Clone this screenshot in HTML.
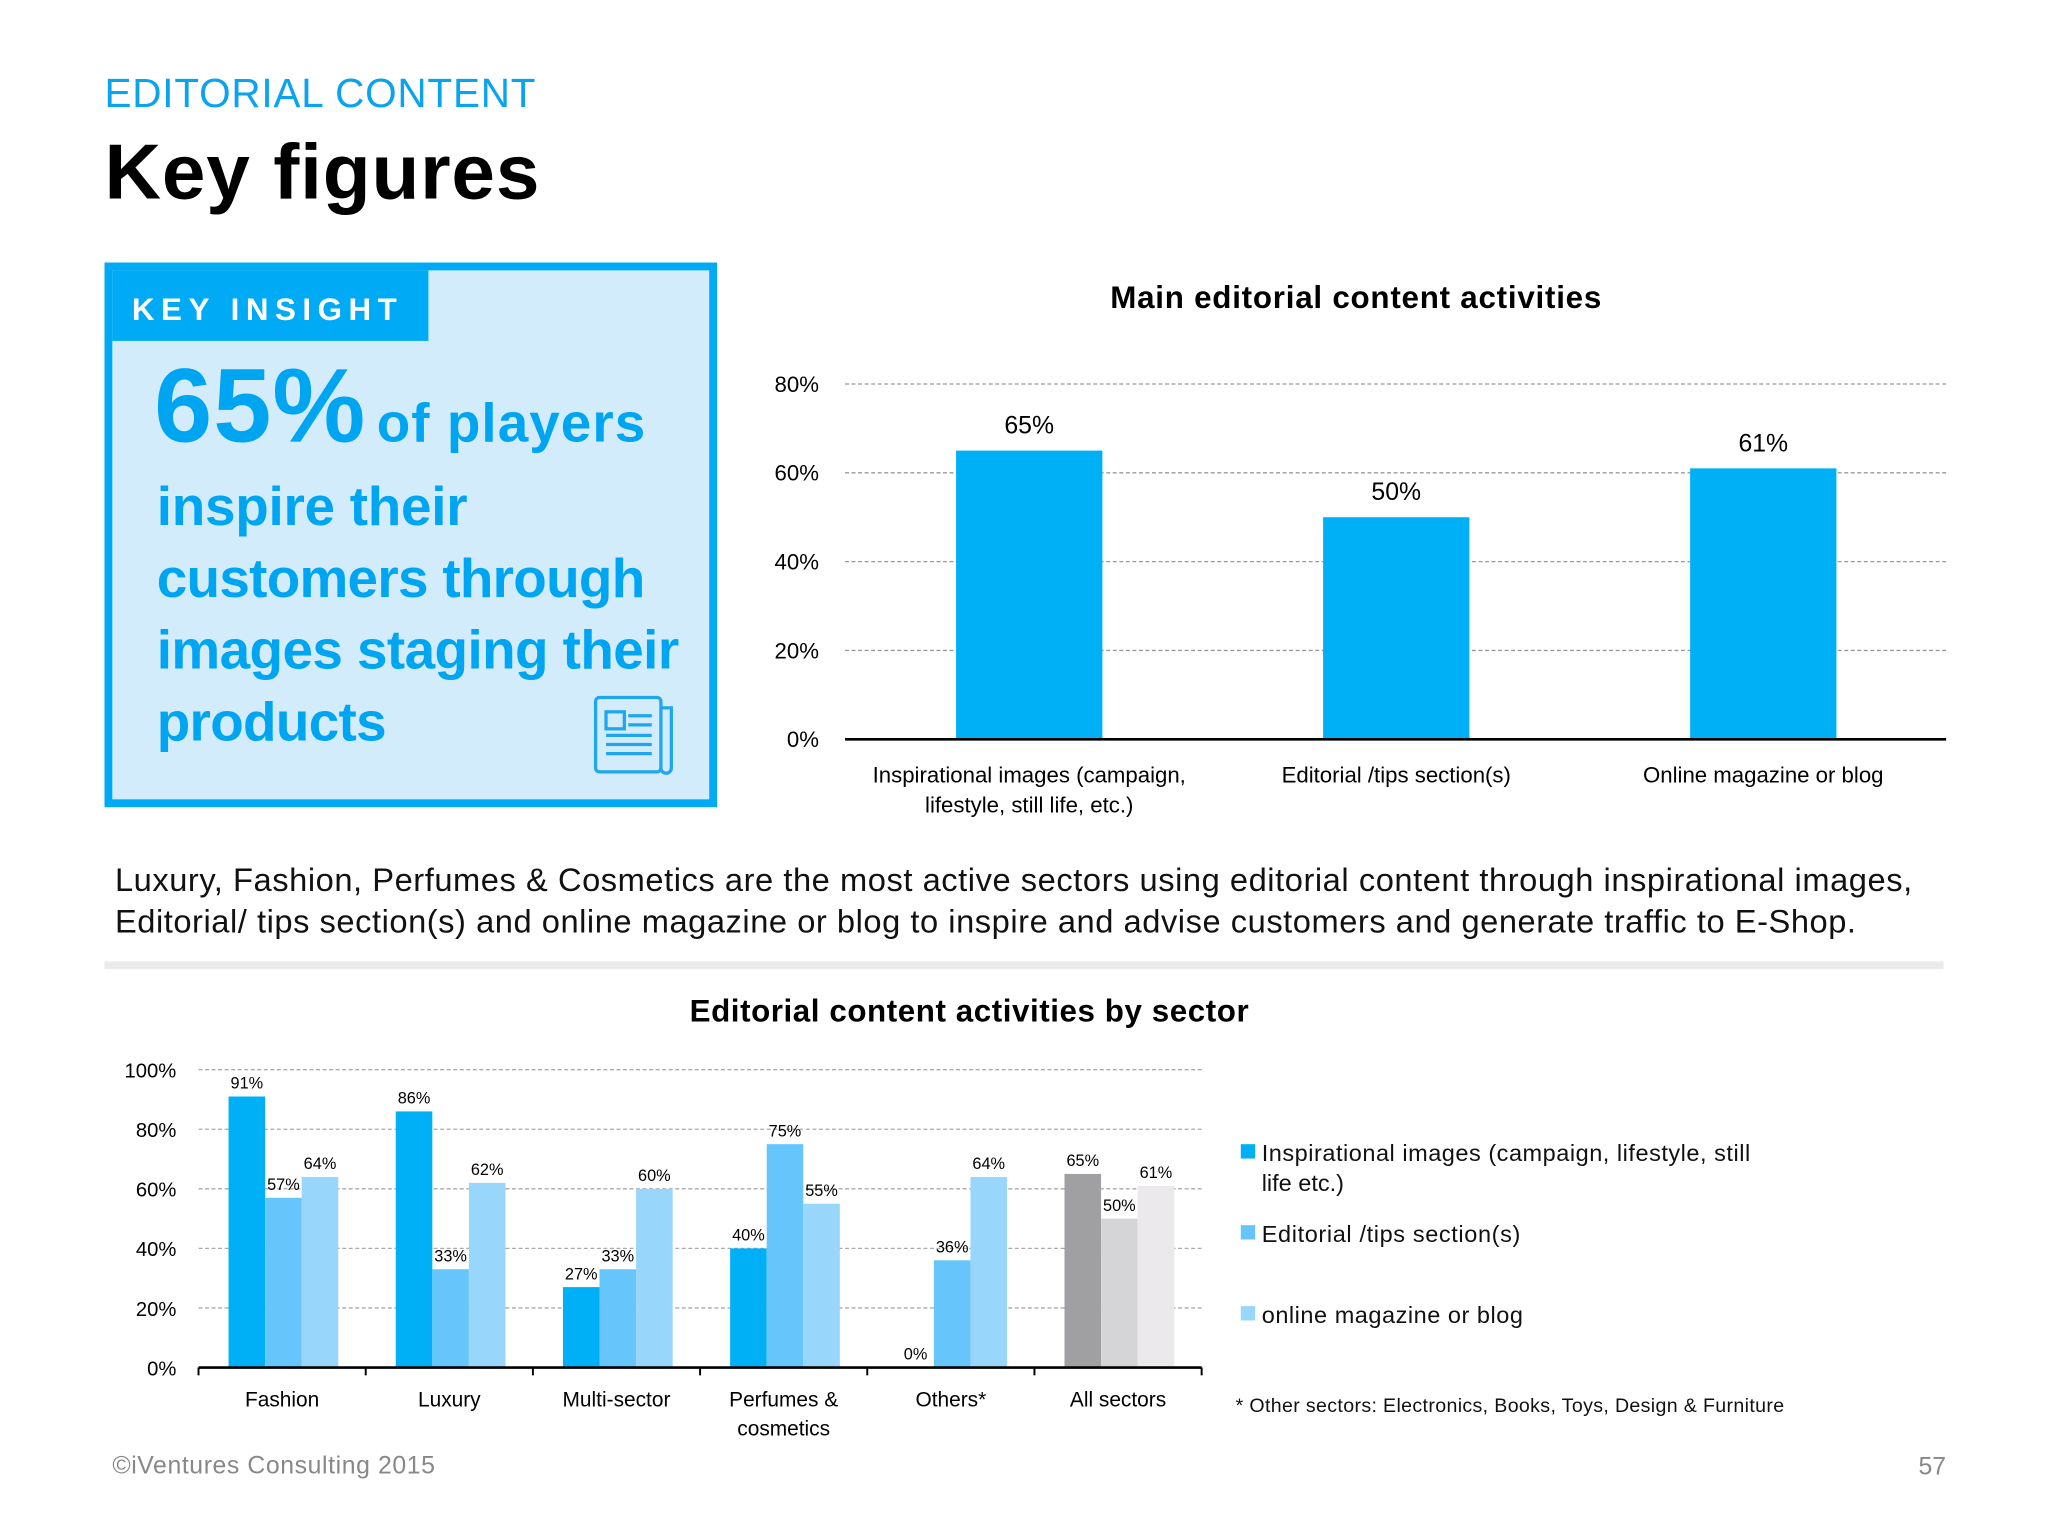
<!DOCTYPE html>
<html><head><meta charset="utf-8"><style>
html,body{margin:0;padding:0;background:#fff;}
svg{display:block;font-family:"Liberation Sans",sans-serif;}
</style></head><body>
<svg id="page" width="2048" height="1536" viewBox="0 0 1568 1176" xmlns="http://www.w3.org/2000/svg">
<text x="80" y="82" font-size="31" fill="#0aa3ee" textLength="330">EDITORIAL CONTENT</text>
<text x="80" y="152" font-size="60" font-weight="bold" fill="#000" textLength="333">Key figures</text>

<g>
<rect x="83" y="204" width="463" height="411" fill="#d3ecfc" stroke="#00aaf4" stroke-width="6"/>
<rect x="86" y="207" width="242" height="54" fill="#00aaf4"/>
<text x="101" y="245" font-size="24" font-weight="bold" fill="#fff" letter-spacing="5">KEY INSIGHT</text>
<text x="118" y="338" font-size="80" fill="#00a5f2" font-weight="bold" textLength="376">65%<tspan font-size="42" dx="8">of players</tspan></text>
<g font-size="42" font-weight="bold" fill="#00a5f2">
<text x="120" y="402" textLength="238">inspire their</text>
<text x="120" y="457" textLength="374">customers through</text>
<text x="120" y="512" textLength="400">images staging their</text>
<text x="120" y="567" textLength="176">products</text>
</g>
<g fill="none" stroke="#1ea7ef" stroke-width="2.5">
<rect x="456" y="534" width="50" height="57" rx="3"/>
<path d="M506 542 h8 v46 a4 4 0 0 1 -8 0"/>
<rect x="464" y="545" width="14" height="13"/>
<path d="M481 548h18M481 555h18M464 563h35M464 570h35M464 577h35"/>
</g>
</g>

<text x="1038" y="236" font-size="24" font-weight="bold" text-anchor="middle" textLength="376">Main editorial content activities</text>
<g id="top"></g>

<text x="88" y="682" font-size="25" fill="#111" textLength="1376">Luxury, Fashion, Perfumes &amp; Cosmetics are the most active sectors using editorial content through inspirational images,</text>
<text x="88" y="714" font-size="25" fill="#111" textLength="1333">Editorial/ tips section(s) and online magazine or blog to inspire and advise customers and generate traffic to E-Shop.</text>
<rect x="80" y="736" width="1408" height="6" fill="#ebebeb"/>

<text x="742" y="782" font-size="24" font-weight="bold" text-anchor="middle" textLength="428">Editorial content activities by sector</text>
<g id="bottom"></g>

<g font-size="18" fill="#111">
<rect x="950" y="876" width="11" height="11" fill="#00b0f6"/>
<text x="966" y="889" textLength="374">Inspirational images (campaign, lifestyle, still</text>
<text x="966" y="912">life etc.)</text>
<rect x="950" y="938" width="11" height="11" fill="#66c6fb"/>
<text x="966" y="951" textLength="198">Editorial /tips section(s)</text>
<rect x="950" y="1000" width="11" height="11" fill="#99d6fc"/>
<text x="966" y="1013" textLength="200">online magazine or blog</text>
<text x="946" y="1081" font-size="15" textLength="420">* Other sectors: Electronics, Books, Toys, Design &amp; Furniture</text>
</g>
<text x="86" y="1128" font-size="19" fill="#888" textLength="247">©iVentures Consulting 2015</text>
<text x="1490" y="1129" font-size="19" fill="#888" text-anchor="end">57</text>
</svg>
<script>
const NS="http://www.w3.org/2000/svg";
const topCats=[["Inspirational images (campaign,","lifestyle, still life, etc.)"],["Editorial /tips section(s)"],["Online magazine or blog"]];
const topVals=[65,50,61];
const topTicks=[0,20,40,60,80];
const secCats=[["Fashion"],["Luxury"],["Multi-sector"],["Perfumes &","cosmetics"],["Others*"],["All sectors"]];
const sInsp=[91,86,27,40,0,65];
const sEdit=[57,33,33,75,36,50];
const sMag=[64,62,60,55,64,61];
const botTicks=[0,20,40,60,80,100];
function mk(p,t,a,txt){const e=document.createElementNS(NS,t);for(const k in a)e.setAttribute(k,a[k]);if(txt!==undefined)e.textContent=txt;p.appendChild(e);return e;}
// top chart
const T=document.getElementById('top');
const ty=v=>566-v*3.4, tx0=647, tgw=281;
topTicks.forEach(t=>{
 if(t>0){const l=mk(T,'line',{x1:647,x2:1490,y1:ty(t),y2:ty(t),stroke:'#999','stroke-dasharray':'3,2','stroke-width':1});
 
 }
 const tl=mk(T,'text',{x:627,y:ty(t)+6,'font-size':17,'text-anchor':'end'},t+'%');
 
 
});
topVals.forEach((v,i)=>{
 const cx=tx0+tgw*i+141;
 const b=mk(T,'rect',{x:cx-56,y:ty(v),width:112,height:v*3.4,fill:'#00b0f6'});
 
 
 const vl=mk(T,'text',{x:cx,y:ty(v)-13,'font-size':19,'text-anchor':'middle'},v+'%');
 
 
 topCats[i].forEach((s,j)=>{const c=mk(T,'text',{x:cx,y:599+j*23,'font-size':17,'text-anchor':'middle'},s);
 
 });
});
const ax=mk(T,'line',{x1:647,x2:1490,y1:566,y2:566,stroke:'#000','stroke-width':2});


// bottom chart
const B=document.getElementById('bottom');
const by=v=>1047-v*2.28, bx0=152, bgw=128, bw=28;
botTicks.forEach(t=>{
 if(t>0){const l=mk(B,'line',{x1:152,x2:920,y1:by(t),y2:by(t),stroke:'#aaa','stroke-dasharray':'3,2','stroke-width':1});
 
 }
 const tl=mk(B,'text',{x:135,y:by(t)+6,'font-size':15.5,'text-anchor':'end'},t+'%');
 
 
});
const series=[sInsp,sEdit,sMag];
const cols=[["#00b0f6","#66c6fb","#99d6fc"],["#a09fa2","#d5d4d6","#ebe9eb"]];
secCats.forEach((c,i)=>{
 const g0=bx0+bgw*i+23;
 series.forEach((s,k)=>{
  const v=s[i], x=g0+k*bw;
  const col=cols[i===5?1:0][k];
  const b=mk(B,'rect',{x:x,y:by(v),width:bw,height:v*2.28,fill:col});
  
  
  const vl=mk(B,'text',{x:x+bw/2,y:by(v)-6,'font-size':12.5,'text-anchor':'middle'},v+'%');
  
  
 });
 c.forEach((s,j)=>{const t=mk(B,'text',{x:bx0+bgw*i+64,y:1077+j*22,'font-size':16,'text-anchor':'middle'},s);
 
 });
});
for(let i=0;i<=6;i++){const tk=mk(B,'line',{x1:bx0+bgw*i,x2:bx0+bgw*i,y1:1047,y2:1053,stroke:'#000','stroke-width':1.5});

}
const bax=mk(B,'line',{x1:152,x2:920,y1:1047,y2:1047,stroke:'#000','stroke-width':2});


</script>
</body></html>
